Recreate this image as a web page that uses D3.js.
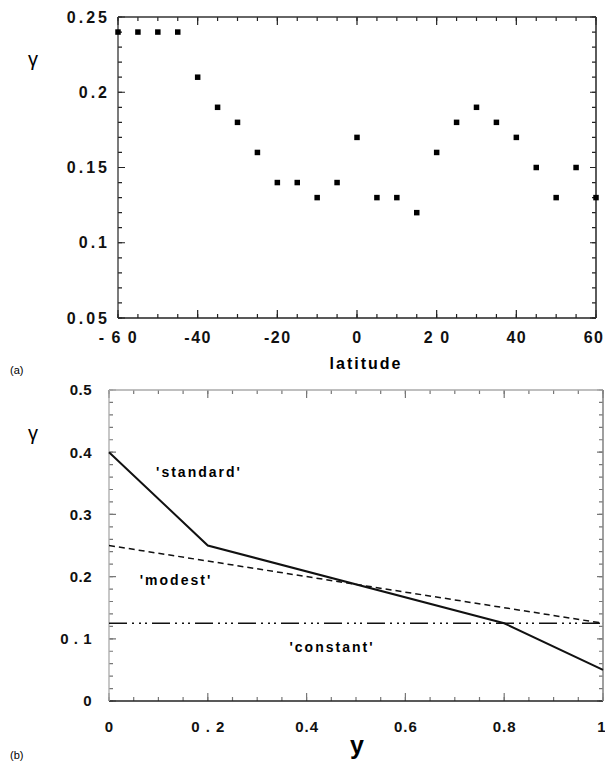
<!DOCTYPE html>
<html><head><meta charset="utf-8">
<script src="https://cdn.jsdelivr.net/npm/d3@7/dist/d3.min.js"></script>
<style>
body{margin:0;background:#fff;}
svg text{font-family:"Liberation Sans",Arial,sans-serif;}
</style></head>
<body><svg id="c" width="605" height="765"></svg>
<script>
// ---- panel (a) data ----
const latitudes = [-60,-55,-50,-45,-40,-35,-30,-25,-20,-15,-10,-5,0,5,10,15,20,25,30,35,40,45,50,55,60];
const gammaA    = [0.24,0.24,0.24,0.24,0.21,0.19,0.18,0.16,0.14,0.14,0.13,0.14,0.17,0.13,0.13,0.12,0.16,0.18,0.19,0.18,0.17,0.15,0.13,0.15,0.13];
const xTicksA = [-60,-40,-20,0,20,40,60];
const xTickLabelsA = ["- 6 0","-40","-20","0","2 0","40","60"];
const yTicksA = [0.05,0.1,0.15,0.2,0.25];
const yTickLabelsA = ["0.05","0.1","0.15","0.2","0.25"];

// ---- panel (b) data ----
const yPos = [0,0.2,0.8,1];
const standard = [0.4,0.25,0.125,0.05];
const modestX = [0,1];
const modest = [0.25,0.125];
const constantX = [0,1];
const constant = [0.125,0.125];
const xTicksB = [0,0.2,0.4,0.6,0.8,1];
const xTickLabelsB = ["0","0 . 2","0.4","0.6","0.8","1"];
const yTicksB = [0,0.1,0.2,0.3,0.4,0.5];
const yTickLabelsB = ["0","0 . 1","0.2","0.3","0.4","0.5"];

const svg = d3.select("#c");

function ticks(g, scale, vals, orient, W, H, len, color){
  const p = d3.path();
  vals.forEach(d=>{
    const v = scale(d);
    if (orient === "bottom") { p.moveTo(v,H); p.lineTo(v,H-len); }
    if (orient === "top")    { p.moveTo(v,0); p.lineTo(v,len); }
    if (orient === "left")   { p.moveTo(0,v); p.lineTo(len,v); }
    if (orient === "right")  { p.moveTo(W,v); p.lineTo(W-len,v); }
  });
  g.append("path").attr("d",p.toString()).attr("fill","none").attr("stroke",color).attr("stroke-width",1.2);
}

function frame(g, x, y, W, H, o){
  ticks(g,x,o.xMinor,"bottom",W,H,4,o.tickCol);
  ticks(g,x,o.xMajor,"bottom",W,H,8,o.tickCol);
  ticks(g,x,o.xMinor,"top",W,H,4,o.tickCol);
  ticks(g,x,o.xMajor,"top",W,H,8,o.tickCol);
  ticks(g,y,o.yMinor,"left",W,H,4,o.tickCol);
  ticks(g,y,o.yMajor,"left",W,H,7,o.tickCol);
  ticks(g,y,o.yMinor,"right",W,H,4,o.tickCol);
  ticks(g,y,o.yMajor,"right",W,H,6,o.tickCol);
  g.append("line").attr("x1",0).attr("x2",W).attr("y1",H).attr("y2",H).attr("stroke","#222").attr("stroke-width",1.6);
  g.append("line").attr("x1",0).attr("x2",W).attr("y1",0).attr("y2",0).attr("stroke",o.light).attr("stroke-width",1.3);
  g.append("line").attr("x1",0).attr("x2",0).attr("y1",0).attr("y2",H).attr("stroke",o.light).attr("stroke-width",1.3);
  g.append("line").attr("x1",W).attr("x2",W).attr("y1",0).attr("y2",H).attr("stroke",o.rightCol).attr("stroke-width",1.6);
  const ax = g.append("g").attr("transform",`translate(0,${H})`)
    .call(d3.axisBottom(x).tickValues(o.xMajor).tickSize(0).tickPadding(o.xPad)
      .tickFormat(d=>o.xLab[o.xMajor.indexOf(d)]));
  const ay = g.append("g")
    .call(d3.axisLeft(y).tickValues(o.yMajor).tickSize(0).tickPadding(o.yPad)
      .tickFormat(d=>o.yLab[o.yMajor.indexOf(d)]));
  g.selectAll(".domain").remove();
  ax.selectAll("text").attr("font-size",o.fsX).attr("font-weight","bold").attr("fill","#111")
    .attr("font-family","'Liberation Sans',Arial,sans-serif").style("letter-spacing",o.lsX+"px");
  ay.selectAll("text").attr("font-size",o.fsY).attr("font-weight","bold").attr("fill","#111")
    .attr("font-family","'Liberation Sans',Arial,sans-serif").style("letter-spacing",o.lsY+"px");
  return {ax, ay};
}

// ===== Panel (a) =====
{
  const L=118, T=17, W=478, H=301;
  const g = svg.append("g").attr("transform",`translate(${L},${T})`);
  const x = d3.scaleLinear().domain([-60,60]).range([0,W]);
  const y = d3.scaleLinear().domain([0.05,0.25]).range([H,0]);
  const r = frame(g,x,y,W,H,{xMinor:d3.range(-60,61,5),yMinor:d3.range(5,26).map(v=>v/100),xMajor:xTicksA,yMajor:yTicksA,
    xLab:xTickLabelsA,yLab:yTickLabelsA,xPad:14,yPad:8,fsX:16,fsY:16,lsX:1.5,lsY:3,light:"#333",rightCol:"#333",tickCol:"#222"});
  r.ax.selectAll(".tick").filter(d=>d===60).select("text").attr("text-anchor","end").attr("dx","8");
  const s=5.5;
  g.selectAll("rect.pt").data(latitudes).join("rect").attr("class","pt")
    .attr("x",(d)=>x(d)-s/2).attr("y",(d,i)=>y(gammaA[i])-s/2).attr("width",s).attr("height",s).attr("fill","#000");
  svg.append("text").attr("x",366).attr("y",369).attr("text-anchor","middle").attr("font-size",16)
    .attr("font-weight","bold").style("letter-spacing","2px").text("latitude");
  svg.append("text").attr("x",33).attr("y",66).attr("text-anchor","middle").attr("font-size",20)
    .attr("font-family","'Liberation Serif',serif").text("γ");
  svg.append("text").attr("x",10).attr("y",374).attr("font-size",11)
    .attr("font-family","'DejaVu Serif',serif").text("(a)");
}

// ===== Panel (b) =====
{
  const L=109, T=390, W=494, H=311;
  const g = svg.append("g").attr("transform",`translate(${L},${T})`);
  const x = d3.scaleLinear().domain([0,1]).range([0,W]);
  const y = d3.scaleLinear().domain([0,0.5]).range([H,0]);
  const r = frame(g,x,y,W,H,{xMinor:d3.range(0,21).map(v=>v/20),yMinor:d3.range(0,26).map(v=>v/50),xMajor:xTicksB,yMajor:yTicksB,
    xLab:xTickLabelsB,yLab:yTickLabelsB,xPad:20,yPad:17,fsX:15,fsY:15,lsX:1,lsY:0.5,light:"#aaa",rightCol:"#888",tickCol:"#777"});
  r.ax.selectAll(".tick").filter(d=>d===1).select("text").attr("text-anchor","end").attr("dx","3");
  const line = d3.line().x(d=>x(d[0])).y(d=>y(d[1]));
  g.append("path").attr("d",line(constantX.map((v,i)=>[v,constant[i]]))).attr("fill","none")
    .attr("stroke","#111").attr("stroke-width",1.5).attr("stroke-dasharray","18,5,2,5,2,4,2,5");
  g.append("path").attr("d",line(modestX.map((v,i)=>[v,modest[i]]))).attr("fill","none")
    .attr("stroke","#111").attr("stroke-width",1.5).attr("stroke-dasharray","6,4");
  g.append("path").attr("d",line(yPos.map((v,i)=>[v,standard[i]]))).attr("fill","none")
    .attr("stroke","#111").attr("stroke-width",2);
  const lab = (t,xx,yy)=>svg.append("text").attr("x",xx).attr("y",yy).attr("text-anchor","middle")
    .attr("font-size",14).attr("font-weight","bold").style("letter-spacing","2px").text(t);
  lab("'standard'",199,477);
  lab("'modest'",176,585);
  lab("'constant'",332,652);
  svg.append("text").attr("x",357).attr("y",754).attr("text-anchor","middle").attr("font-size",25)
    .attr("font-weight","bold").text("y");
  svg.append("text").attr("x",33).attr("y",440).attr("text-anchor","middle").attr("font-size",20)
    .attr("font-family","'Liberation Serif',serif").text("γ");
  svg.append("text").attr("x",10).attr("y",759).attr("font-size",11)
    .attr("font-family","'DejaVu Serif',serif").text("(b)");
}
</script></body></html>
